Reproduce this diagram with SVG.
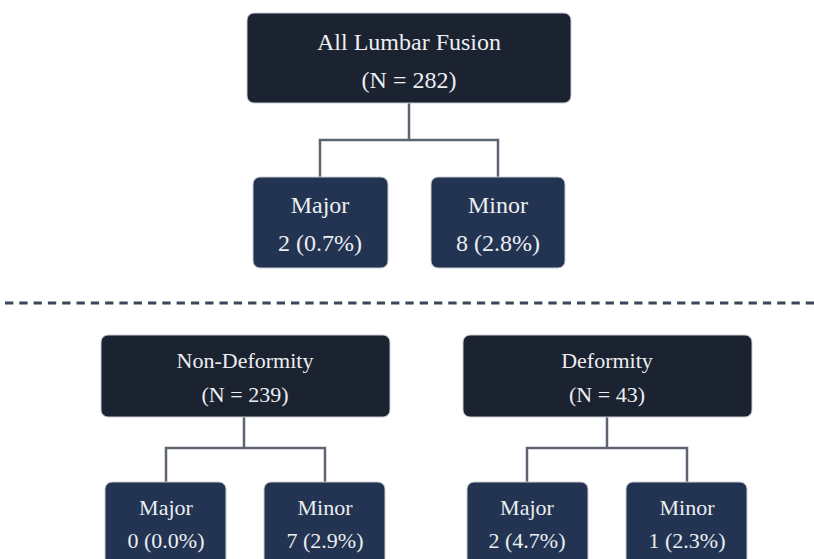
<svg xmlns="http://www.w3.org/2000/svg" width="814" height="559" viewBox="0 0 814 559">
<style>
.parent{fill:#1b2230;stroke:#c9ccd2;stroke-width:1}
.child{fill:#223451;stroke:#c9ccd2;stroke-width:1}
.t{font-family:"Liberation Serif","DejaVu Serif",serif;fill:#eceef2;text-anchor:middle}
.tl{font-size:24px}
.ts{font-size:22px}
.conn{fill:none;stroke:#5d6570;stroke-width:2.5}
</style>
<rect width="814" height="559" fill="#ffffff"/>
<g id="connectors">
<path class="conn" d="M409 103 V140 M320 177 V140 H498 V177"/>
<path class="conn" d="M244 417 V448 M166 482 V448 H325 V482"/>
<path class="conn" d="M607 417 V448 M527 482 V448 H687 V482"/>
<line x1="5" y1="303" x2="814" y2="303" stroke="#3a475a" stroke-width="3" stroke-dasharray="8.3 6"/>
</g>
<g id="all">
<rect class="parent" x="247" y="13" width="324" height="90" rx="7"/>
<text class="t tl" x="409" y="50">All Lumbar Fusion</text>
<text class="t tl" x="409" y="88">(N = 282)</text>
</g>
<g id="all-major">
<rect class="child" x="253" y="177" width="135" height="91" rx="7"/>
<text class="t tl" x="320" y="213">Major</text>
<text class="t tl" x="320" y="251">2 (0.7%)</text>
</g>
<g id="all-minor">
<rect class="child" x="431" y="177" width="134" height="91" rx="7"/>
<text class="t tl" x="498" y="213">Minor</text>
<text class="t tl" x="498" y="251">8 (2.8%)</text>
</g>
<g id="nondeformity">
<rect class="parent" x="101" y="335" width="289" height="82" rx="7"/>
<text class="t ts" x="245" y="368">Non-Deformity</text>
<text class="t ts" x="245" y="402">(N = 239)</text>
</g>
<g id="nd-major">
<rect class="child" x="105" y="482" width="121" height="90" rx="7"/>
<text class="t ts" x="166" y="515">Major</text>
<text class="t ts" x="166" y="548">0 (0.0%)</text>
</g>
<g id="nd-minor">
<rect class="child" x="264" y="482" width="121" height="90" rx="7"/>
<text class="t ts" x="325" y="515">Minor</text>
<text class="t ts" x="325" y="548">7 (2.9%)</text>
</g>
<g id="deformity">
<rect class="parent" x="463" y="335" width="289" height="82" rx="7"/>
<text class="t ts" x="607" y="368">Deformity</text>
<text class="t ts" x="607" y="402">(N = 43)</text>
</g>
<g id="d-major">
<rect class="child" x="467" y="482" width="121" height="90" rx="7"/>
<text class="t ts" x="527" y="515">Major</text>
<text class="t ts" x="527" y="548">2 (4.7%)</text>
</g>
<g id="d-minor">
<rect class="child" x="626" y="482" width="121" height="90" rx="7"/>
<text class="t ts" x="687" y="515">Minor</text>
<text class="t ts" x="687" y="548">1 (2.3%)</text>
</g>
</svg>
